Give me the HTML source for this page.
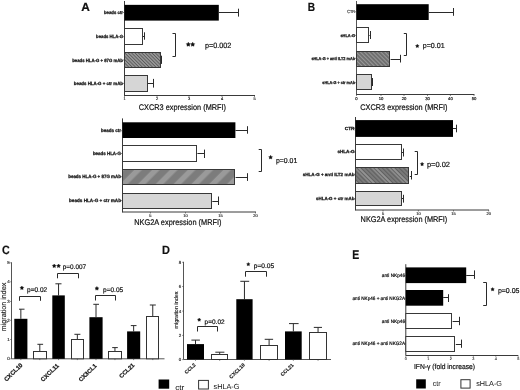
<!DOCTYPE html>
<html><head><meta charset="utf-8"><style>
html,body{margin:0;padding:0;background:#fff;width:520px;height:390px;overflow:hidden}
svg{display:block;filter:blur(0.3px);font-family:"Liberation Sans", sans-serif;text-rendering:geometricPrecision}
</style></head><body>
<svg width="520" height="390" viewBox="0 0 520 390" font-family='"Liberation Sans", sans-serif'>
<defs>
<pattern id="hd" patternUnits="userSpaceOnUse" width="2.4" height="2.4" patternTransform="rotate(-45)">
<rect width="2.4" height="2.4" fill="#959595"/><rect width="0.8" height="2.4" fill="#5a5a5a"/></pattern>
<pattern id="hd2" patternUnits="userSpaceOnUse" width="2.9" height="2.9" patternTransform="rotate(-45)">
<rect width="2.9" height="2.9" fill="#707070"/><rect width="0.9" height="2.9" fill="#9c9c9c"/></pattern>
<pattern id="hw" patternUnits="userSpaceOnUse" width="12.6" height="12.6" patternTransform="rotate(45)">
<rect width="12.6" height="12.6" fill="#7c7c7c"/><rect x="0.8" width="5.5" height="12.6" fill="#9a9a9a"/></pattern>
<pattern id="hw2" patternUnits="userSpaceOnUse" width="12" height="12" patternTransform="rotate(-45)">
<rect width="12" height="12" fill="#7a7a7a"/><rect width="5" height="12" fill="#939393"/>
<rect x="1" width="0.9" height="12" fill="#5c5c5c"/><rect x="4" width="0.9" height="12" fill="#5c5c5c"/><rect x="7" width="0.9" height="12" fill="#5c5c5c"/><rect x="10" width="0.9" height="12" fill="#5c5c5c"/></pattern>
</defs>
<rect width="520" height="390" fill="#fff"/>
<text x="81.2" y="11.0" font-size="12" text-anchor="start" font-weight="bold" fill="#111" textLength="8.6" lengthAdjust="spacingAndGlyphs" stroke="#111" stroke-width="0.2">A</text>
<text x="307.7" y="11.1" font-size="12" text-anchor="start" font-weight="bold" fill="#111" textLength="7.3" lengthAdjust="spacingAndGlyphs" stroke="#111" stroke-width="0.2">B</text>
<text x="2.1" y="253.55" font-size="12" text-anchor="start" font-weight="bold" fill="#111" textLength="7.7" lengthAdjust="spacingAndGlyphs" stroke="#111" stroke-width="0.2">C</text>
<text x="161.9" y="253.55" font-size="12" text-anchor="start" font-weight="bold" fill="#111" textLength="7.9" lengthAdjust="spacingAndGlyphs" stroke="#111" stroke-width="0.2">D</text>
<text x="352.2" y="259.08" font-size="12.8" text-anchor="start" font-weight="bold" fill="#111" textLength="7.0" lengthAdjust="spacingAndGlyphs" stroke="#111" stroke-width="0.2">E</text>
<line x1="124.5" y1="1" x2="124.5" y2="96" stroke="#3a3a3a" stroke-width="1"/>
<line x1="124.5" y1="95.5" x2="255" y2="95.5" stroke="#3a3a3a" stroke-width="1"/>
<rect x="124.5" y="4.85" width="94.30000000000001" height="15.750000000000002" fill="#000"/>
<line x1="218.8" y1="12.5" x2="238.8" y2="12.5" stroke="#2a2a2a" stroke-width="1"/>
<line x1="238.5" y1="8.7" x2="238.5" y2="16.6" stroke="#2a2a2a" stroke-width="1"/>
<rect x="124.5" y="28.5" width="18.0" height="16.0" fill="#fff" stroke="#383838" stroke-width="1"/>
<line x1="143" y1="36.5" x2="144.8" y2="36.5" stroke="#2a2a2a" stroke-width="1"/>
<line x1="144.5" y1="32.3" x2="144.5" y2="39.7" stroke="#2a2a2a" stroke-width="1"/>
<rect x="124.5" y="52.5" width="36.0" height="15.0" fill="url(#hd)" stroke="#383838" stroke-width="1"/>
<line x1="161" y1="60.5" x2="161.8" y2="60.5" stroke="#2a2a2a" stroke-width="1"/>
<line x1="161.5" y1="55.7" x2="161.5" y2="63.9" stroke="#2a2a2a" stroke-width="1"/>
<rect x="124.5" y="75.5" width="23.0" height="16.0" fill="#d6d6d6" stroke="#383838" stroke-width="1"/>
<line x1="148" y1="83.5" x2="153.3" y2="83.5" stroke="#2a2a2a" stroke-width="1"/>
<line x1="153.5" y1="78.9" x2="153.5" y2="87.6" stroke="#2a2a2a" stroke-width="1"/>
<line x1="124.5" y1="95.5" x2="124.5" y2="97" stroke="#3a3a3a" stroke-width="0.6"/>
<text x="124.5" y="100.0" font-size="4.0" text-anchor="middle" fill="#222" stroke="#222" stroke-width="0.15">1</text>
<line x1="157" y1="95.5" x2="157" y2="97" stroke="#3a3a3a" stroke-width="0.6"/>
<text x="157" y="100.0" font-size="4.0" text-anchor="middle" fill="#222" stroke="#222" stroke-width="0.15">2</text>
<line x1="189" y1="95.5" x2="189" y2="97" stroke="#3a3a3a" stroke-width="0.6"/>
<text x="189" y="100.0" font-size="4.0" text-anchor="middle" fill="#222" stroke="#222" stroke-width="0.15">3</text>
<line x1="222" y1="95.5" x2="222" y2="97" stroke="#3a3a3a" stroke-width="0.6"/>
<text x="222" y="100.0" font-size="4.0" text-anchor="middle" fill="#222" stroke="#222" stroke-width="0.15">4</text>
<line x1="254.5" y1="95.5" x2="254.5" y2="97" stroke="#3a3a3a" stroke-width="0.6"/>
<text x="254.5" y="100.0" font-size="4.0" text-anchor="middle" fill="#222" stroke="#222" stroke-width="0.15">5</text>
<text x="138.8" y="109.87" font-size="8.2" text-anchor="start" fill="#111" textLength="87.2" lengthAdjust="spacingAndGlyphs" stroke="#111" stroke-width="0.2">CXCR3 expression (MRFI)</text>
<polyline points="172.5,33.5 175.5,33.5 175.5,56.5 172.5,56.5" fill="none" stroke="#2a2a2a" stroke-width="1"/>
<polygon points="188.30,42.23 189.03,43.44 190.39,43.75 189.47,44.80 189.59,46.21 188.30,45.66 187.01,46.21 187.13,44.80 186.21,43.75 187.57,43.44" fill="#111" stroke="#111" stroke-width="0.4" stroke-linejoin="round"/>
<polygon points="192.70,42.23 193.43,43.44 194.79,43.75 193.87,44.80 193.99,46.21 192.70,45.66 191.41,46.21 191.53,44.80 190.61,43.75 191.97,43.44" fill="#111" stroke="#111" stroke-width="0.4" stroke-linejoin="round"/>
<text x="205" y="47.6" font-size="7.6" text-anchor="start" fill="#111" textLength="26.3" lengthAdjust="spacingAndGlyphs" stroke="#111" stroke-width="0.2">p=0.002</text>
<text x="104" y="14.11" font-size="4.6" text-anchor="start" font-weight="bold" fill="#111" textLength="19" lengthAdjust="spacingAndGlyphs" stroke="#111" stroke-width="0.25">beads ctr</text>
<line x1="123" y1="12.5" x2="124.5" y2="12.5" stroke="#3a3a3a" stroke-width="0.6"/>
<text x="96.1" y="38.31" font-size="4.6" text-anchor="start" font-weight="bold" fill="#111" textLength="26.9" lengthAdjust="spacingAndGlyphs" stroke="#111" stroke-width="0.25">beads HLA-G</text>
<line x1="123" y1="36.7" x2="124.5" y2="36.7" stroke="#3a3a3a" stroke-width="0.6"/>
<text x="72.2" y="61.61" font-size="4.6" text-anchor="start" font-weight="bold" fill="#111" textLength="50.8" lengthAdjust="spacingAndGlyphs" stroke="#111" stroke-width="0.25">beads HLA-G + 87G mAb</text>
<line x1="123" y1="60.0" x2="124.5" y2="60.0" stroke="#3a3a3a" stroke-width="0.6"/>
<text x="73.8" y="85.01" font-size="4.6" text-anchor="start" font-weight="bold" fill="#111" textLength="49.2" lengthAdjust="spacingAndGlyphs" stroke="#111" stroke-width="0.25">beads HLA-G + ctr mAb</text>
<line x1="123" y1="83.4" x2="124.5" y2="83.4" stroke="#3a3a3a" stroke-width="0.6"/>
<line x1="122.5" y1="118.4" x2="122.5" y2="212.5" stroke="#3a3a3a" stroke-width="1"/>
<line x1="122.5" y1="212" x2="256" y2="212" stroke="#3a3a3a" stroke-width="1"/>
<rect x="122.5" y="122.3" width="112.9" height="15.700000000000003" fill="#000"/>
<line x1="235.4" y1="130.5" x2="247" y2="130.5" stroke="#2a2a2a" stroke-width="1"/>
<line x1="247.5" y1="126.2" x2="247.5" y2="133.7" stroke="#2a2a2a" stroke-width="1"/>
<rect x="122.5" y="145.5" width="74.0" height="16.0" fill="#fff" stroke="#383838" stroke-width="1"/>
<line x1="197.4" y1="153.5" x2="204.7" y2="153.5" stroke="#2a2a2a" stroke-width="1"/>
<line x1="204.5" y1="149.6" x2="204.5" y2="158" stroke="#2a2a2a" stroke-width="1"/>
<rect x="122.5" y="169.5" width="112.0" height="15.0" fill="url(#hw)" stroke="#383838" stroke-width="1"/>
<line x1="235.6" y1="177.5" x2="247.7" y2="177.5" stroke="#2a2a2a" stroke-width="1"/>
<line x1="247.5" y1="173.2" x2="247.5" y2="180.9" stroke="#2a2a2a" stroke-width="1"/>
<rect x="122.5" y="193.5" width="89.0" height="15.0" fill="#d6d6d6" stroke="#383838" stroke-width="1"/>
<line x1="212.3" y1="201.5" x2="218.1" y2="201.5" stroke="#2a2a2a" stroke-width="1"/>
<line x1="218.5" y1="196.5" x2="218.5" y2="205" stroke="#2a2a2a" stroke-width="1"/>
<line x1="150.4" y1="212" x2="150.4" y2="213.5" stroke="#3a3a3a" stroke-width="0.6"/>
<text x="150.4" y="216.6" font-size="4.0" text-anchor="middle" fill="#222" stroke="#222" stroke-width="0.15">5</text>
<line x1="185.5" y1="212" x2="185.5" y2="213.5" stroke="#3a3a3a" stroke-width="0.6"/>
<text x="185.5" y="216.6" font-size="4.0" text-anchor="middle" fill="#222" stroke="#222" stroke-width="0.15">10</text>
<line x1="220.6" y1="212" x2="220.6" y2="213.5" stroke="#3a3a3a" stroke-width="0.6"/>
<text x="220.6" y="216.6" font-size="4.0" text-anchor="middle" fill="#222" stroke="#222" stroke-width="0.15">15</text>
<line x1="255.5" y1="212" x2="255.5" y2="213.5" stroke="#3a3a3a" stroke-width="0.6"/>
<text x="255.5" y="216.6" font-size="4.0" text-anchor="middle" fill="#222" stroke="#222" stroke-width="0.15">20</text>
<text x="134.2" y="225.07" font-size="8.2" text-anchor="start" fill="#111" textLength="87.4" lengthAdjust="spacingAndGlyphs" stroke="#111" stroke-width="0.2">NKG2A expression (MRFI)</text>
<polyline points="258.7,149.5 261.5,149.5 261.5,171.5 258.7,171.5" fill="none" stroke="#2a2a2a" stroke-width="1"/>
<polygon points="270.60,155.30 271.26,156.40 272.50,156.68 271.66,157.64 271.78,158.92 270.60,158.42 269.42,158.92 269.54,157.64 268.70,156.68 269.94,156.40" fill="#111" stroke="#111" stroke-width="0.4" stroke-linejoin="round"/>
<text x="276" y="163.32" font-size="7.2" text-anchor="start" fill="#111" textLength="21.3" lengthAdjust="spacingAndGlyphs" stroke="#111" stroke-width="0.2">p=0.01</text>
<text x="101" y="132.45" font-size="4.7" text-anchor="start" font-weight="bold" fill="#111" textLength="20" lengthAdjust="spacingAndGlyphs" stroke="#111" stroke-width="0.25">beads ctr</text>
<line x1="121" y1="130.8" x2="122.5" y2="130.8" stroke="#3a3a3a" stroke-width="0.6"/>
<text x="92.9" y="155.15" font-size="4.7" text-anchor="start" font-weight="bold" fill="#111" textLength="28.1" lengthAdjust="spacingAndGlyphs" stroke="#111" stroke-width="0.25">beads HLA-G</text>
<line x1="121" y1="153.5" x2="122.5" y2="153.5" stroke="#3a3a3a" stroke-width="0.6"/>
<text x="68.2" y="178.34" font-size="4.7" text-anchor="start" font-weight="bold" fill="#111" textLength="52.8" lengthAdjust="spacingAndGlyphs" stroke="#111" stroke-width="0.25">beads HLA-G + 87G mAb</text>
<line x1="121" y1="176.7" x2="122.5" y2="176.7" stroke="#3a3a3a" stroke-width="0.6"/>
<text x="69" y="202.25" font-size="4.7" text-anchor="start" font-weight="bold" fill="#111" textLength="52" lengthAdjust="spacingAndGlyphs" stroke="#111" stroke-width="0.25">beads HLA-G + ctr mAb</text>
<line x1="121" y1="200.6" x2="122.5" y2="200.6" stroke="#3a3a3a" stroke-width="0.6"/>
<line x1="356.5" y1="1" x2="356.5" y2="95" stroke="#555" stroke-width="1"/>
<line x1="356.5" y1="94.5" x2="474.4" y2="94.5" stroke="#3a3a3a" stroke-width="1"/>
<rect x="356.5" y="4.2" width="72.19999999999999" height="15.8" fill="#000"/>
<line x1="428.7" y1="12.5" x2="453.3" y2="12.5" stroke="#2a2a2a" stroke-width="1"/>
<line x1="453.5" y1="8" x2="453.5" y2="15.8" stroke="#2a2a2a" stroke-width="1"/>
<rect x="356.5" y="27.5" width="12.0" height="15.0" fill="#fff" stroke="#383838" stroke-width="1"/>
<line x1="369.4" y1="35.5" x2="370.6" y2="35.5" stroke="#2a2a2a" stroke-width="1"/>
<line x1="370.5" y1="31" x2="370.5" y2="39" stroke="#2a2a2a" stroke-width="1"/>
<rect x="356.5" y="51.5" width="33.0" height="15.0" fill="url(#hd2)" stroke="#383838" stroke-width="1"/>
<line x1="390.6" y1="59.5" x2="400.4" y2="59.5" stroke="#2a2a2a" stroke-width="1"/>
<line x1="400.5" y1="54.8" x2="400.5" y2="62.5" stroke="#2a2a2a" stroke-width="1"/>
<rect x="356.5" y="74.5" width="15.0" height="15.0" fill="#d6d6d6" stroke="#383838" stroke-width="1"/>
<line x1="372.3" y1="82.5" x2="372.6" y2="82.5" stroke="#2a2a2a" stroke-width="1"/>
<line x1="372.5" y1="78" x2="372.5" y2="86" stroke="#2a2a2a" stroke-width="1"/>
<line x1="356.5" y1="94.5" x2="356.5" y2="96" stroke="#3a3a3a" stroke-width="0.6"/>
<text x="356.5" y="99.77" font-size="4.2" text-anchor="middle" fill="#222" stroke="#222" stroke-width="0.2">0</text>
<line x1="381" y1="94.5" x2="381" y2="96" stroke="#3a3a3a" stroke-width="0.6"/>
<text x="381" y="99.77" font-size="4.2" text-anchor="middle" fill="#222" stroke="#222" stroke-width="0.2">10</text>
<line x1="404" y1="94.5" x2="404" y2="96" stroke="#3a3a3a" stroke-width="0.6"/>
<text x="404" y="99.77" font-size="4.2" text-anchor="middle" fill="#222" stroke="#222" stroke-width="0.2">20</text>
<line x1="427.5" y1="94.5" x2="427.5" y2="96" stroke="#3a3a3a" stroke-width="0.6"/>
<text x="427.5" y="99.77" font-size="4.2" text-anchor="middle" fill="#222" stroke="#222" stroke-width="0.2">30</text>
<line x1="450.4" y1="94.5" x2="450.4" y2="96" stroke="#3a3a3a" stroke-width="0.6"/>
<text x="450.4" y="99.77" font-size="4.2" text-anchor="middle" fill="#222" stroke="#222" stroke-width="0.2">40</text>
<line x1="474" y1="94.5" x2="474" y2="96" stroke="#3a3a3a" stroke-width="0.6"/>
<text x="474" y="99.77" font-size="4.2" text-anchor="middle" fill="#222" stroke="#222" stroke-width="0.2">50</text>
<text x="360.3" y="109.97" font-size="8.2" text-anchor="start" fill="#111" textLength="87.2" lengthAdjust="spacingAndGlyphs" stroke="#111" stroke-width="0.2">CXCR3 expression (MRFI)</text>
<polyline points="403.8,33.5 406.5,33.5 406.5,55.5 403.8,55.5" fill="none" stroke="#2a2a2a" stroke-width="1"/>
<polygon points="417.30,44.27 417.89,45.26 419.01,45.51 418.25,46.38 418.36,47.53 417.30,47.08 416.24,47.53 416.35,46.38 415.59,45.51 416.71,45.26" fill="#111" stroke="#111" stroke-width="0.4" stroke-linejoin="round"/>
<text x="422.7" y="48.35" font-size="7.3" text-anchor="start" fill="#111" textLength="21.9" lengthAdjust="spacingAndGlyphs" stroke="#111" stroke-width="0.2">p=0.01</text>
<text x="347.3" y="13.34" font-size="4.4" text-anchor="start" fill="#333" textLength="7.7" lengthAdjust="spacingAndGlyphs" stroke="#333" stroke-width="0.2">CTR</text>
<line x1="355" y1="11.8" x2="356.5" y2="11.8" stroke="#3a3a3a" stroke-width="0.6"/>
<text x="340.4" y="36.87" font-size="4.2" text-anchor="start" font-weight="bold" fill="#111" textLength="14.6" lengthAdjust="spacingAndGlyphs" stroke="#111" stroke-width="0.25">sHLA-G</text>
<line x1="355" y1="35.4" x2="356.5" y2="35.4" stroke="#3a3a3a" stroke-width="0.6"/>
<text x="311.4" y="59.77" font-size="4.2" text-anchor="start" font-weight="bold" fill="#111" textLength="43.6" lengthAdjust="spacingAndGlyphs" stroke="#111" stroke-width="0.25">sHLA-G + anti ILT2 mAb</text>
<line x1="355" y1="58.3" x2="356.5" y2="58.3" stroke="#3a3a3a" stroke-width="0.6"/>
<text x="322.3" y="84.17" font-size="4.2" text-anchor="start" font-weight="bold" fill="#111" textLength="32.7" lengthAdjust="spacingAndGlyphs" stroke="#111" stroke-width="0.25">sHLA-G + ctr mAb</text>
<line x1="355" y1="82.7" x2="356.5" y2="82.7" stroke="#3a3a3a" stroke-width="0.6"/>
<line x1="355.5" y1="117" x2="355.5" y2="210.5" stroke="#3a3a3a" stroke-width="1"/>
<line x1="355.5" y1="210" x2="489" y2="210" stroke="#3a3a3a" stroke-width="1"/>
<rect x="355.5" y="120.1" width="97.5" height="16.80000000000001" fill="#000"/>
<line x1="453" y1="128.5" x2="456.2" y2="128.5" stroke="#2a2a2a" stroke-width="1"/>
<line x1="456.5" y1="124.7" x2="456.5" y2="132.3" stroke="#2a2a2a" stroke-width="1"/>
<rect x="355.5" y="144.5" width="46.0" height="15.0" fill="#fff" stroke="#383838" stroke-width="1"/>
<line x1="402" y1="152.5" x2="403" y2="152.5" stroke="#2a2a2a" stroke-width="1"/>
<line x1="403.5" y1="148.5" x2="403.5" y2="156.5" stroke="#2a2a2a" stroke-width="1"/>
<rect x="355.5" y="167.5" width="53.0" height="16.0" fill="url(#hw2)" stroke="#383838" stroke-width="1"/>
<line x1="409.8" y1="176.5" x2="411.6" y2="176.5" stroke="#2a2a2a" stroke-width="1"/>
<line x1="411.5" y1="171" x2="411.5" y2="179.5" stroke="#2a2a2a" stroke-width="1"/>
<rect x="355.5" y="191.5" width="46.0" height="14.0" fill="#d6d6d6" stroke="#383838" stroke-width="1"/>
<line x1="402" y1="198.5" x2="403" y2="198.5" stroke="#2a2a2a" stroke-width="1"/>
<line x1="403.5" y1="194.8" x2="403.5" y2="202.6" stroke="#2a2a2a" stroke-width="1"/>
<line x1="383" y1="210" x2="383" y2="211.5" stroke="#3a3a3a" stroke-width="0.6"/>
<text x="383" y="215.0" font-size="4.0" text-anchor="middle" fill="#222" stroke="#222" stroke-width="0.15">5</text>
<line x1="418.4" y1="210" x2="418.4" y2="211.5" stroke="#3a3a3a" stroke-width="0.6"/>
<text x="418.4" y="215.0" font-size="4.0" text-anchor="middle" fill="#222" stroke="#222" stroke-width="0.15">10</text>
<line x1="453.5" y1="210" x2="453.5" y2="211.5" stroke="#3a3a3a" stroke-width="0.6"/>
<text x="453.5" y="215.0" font-size="4.0" text-anchor="middle" fill="#222" stroke="#222" stroke-width="0.15">15</text>
<line x1="488.7" y1="210" x2="488.7" y2="211.5" stroke="#3a3a3a" stroke-width="0.6"/>
<text x="488.7" y="215.0" font-size="4.0" text-anchor="middle" fill="#222" stroke="#222" stroke-width="0.15">20</text>
<text x="360.6" y="222.27" font-size="8.2" text-anchor="start" fill="#111" textLength="86.7" lengthAdjust="spacingAndGlyphs" stroke="#111" stroke-width="0.2">NKG2A expression (MRFI)</text>
<polyline points="414.7,151.5 417.5,151.5 417.5,174.5 414.7,174.5" fill="none" stroke="#2a2a2a" stroke-width="1"/>
<polygon points="422.10,162.37 422.69,163.36 423.81,163.61 423.05,164.48 423.16,165.63 422.10,165.18 421.04,165.63 421.15,164.48 420.39,163.61 421.51,163.36" fill="#111" stroke="#111" stroke-width="0.4" stroke-linejoin="round"/>
<text x="426.9" y="166.53" font-size="7.5" text-anchor="start" fill="#111" textLength="23.1" lengthAdjust="spacingAndGlyphs" stroke="#111" stroke-width="0.2">p=0.02</text>
<text x="344.7" y="130.14" font-size="4.4" text-anchor="start" font-weight="bold" fill="#111" textLength="9.8" lengthAdjust="spacingAndGlyphs" stroke="#111" stroke-width="0.25">CTR</text>
<line x1="354" y1="128.6" x2="355.5" y2="128.6" stroke="#3a3a3a" stroke-width="0.6"/>
<text x="337.4" y="153.44" font-size="4.4" text-anchor="start" font-weight="bold" fill="#111" textLength="17.1" lengthAdjust="spacingAndGlyphs" stroke="#111" stroke-width="0.25">sHLA-G</text>
<line x1="354" y1="151.9" x2="355.5" y2="151.9" stroke="#3a3a3a" stroke-width="0.6"/>
<text x="302.8" y="175.74" font-size="4.4" text-anchor="start" font-weight="bold" fill="#111" textLength="51.7" lengthAdjust="spacingAndGlyphs" stroke="#111" stroke-width="0.25">sHLA-G + anti ILT2 mAb</text>
<line x1="354" y1="174.2" x2="355.5" y2="174.2" stroke="#3a3a3a" stroke-width="0.6"/>
<text x="316" y="200.44" font-size="4.4" text-anchor="start" font-weight="bold" fill="#111" textLength="38.5" lengthAdjust="spacingAndGlyphs" stroke="#111" stroke-width="0.25">sHLA-G + ctr mAb</text>
<line x1="354" y1="198.9" x2="355.5" y2="198.9" stroke="#3a3a3a" stroke-width="0.6"/>
<line x1="11.5" y1="262.3" x2="11.5" y2="358.8" stroke="#555" stroke-width="1"/>
<line x1="11.5" y1="358.8" x2="164.5" y2="358.8" stroke="#555" stroke-width="1"/>
<line x1="10.2" y1="358.8" x2="11.5" y2="358.8" stroke="#3a3a3a" stroke-width="0.6"/>
<text x="8.4" y="360.34" font-size="4.4" text-anchor="middle" fill="#222" stroke="#222" stroke-width="0.15">0</text>
<line x1="10.2" y1="339.5" x2="11.5" y2="339.5" stroke="#3a3a3a" stroke-width="0.6"/>
<text x="8.4" y="341.04" font-size="4.4" text-anchor="middle" fill="#222" stroke="#222" stroke-width="0.15">1</text>
<line x1="10.2" y1="320.3" x2="11.5" y2="320.3" stroke="#3a3a3a" stroke-width="0.6"/>
<text x="8.4" y="321.84" font-size="4.4" text-anchor="middle" fill="#222" stroke="#222" stroke-width="0.15">2</text>
<line x1="10.2" y1="301.5" x2="11.5" y2="301.5" stroke="#3a3a3a" stroke-width="0.6"/>
<text x="8.4" y="303.04" font-size="4.4" text-anchor="middle" fill="#222" stroke="#222" stroke-width="0.15">3</text>
<line x1="10.2" y1="281.8" x2="11.5" y2="281.8" stroke="#3a3a3a" stroke-width="0.6"/>
<text x="8.4" y="283.34" font-size="4.4" text-anchor="middle" fill="#222" stroke="#222" stroke-width="0.15">4</text>
<line x1="10.2" y1="262.8" x2="11.5" y2="262.8" stroke="#3a3a3a" stroke-width="0.6"/>
<text x="8.4" y="264.34" font-size="4.4" text-anchor="middle" fill="#222" stroke="#222" stroke-width="0.15">5</text>
<text transform="translate(6.1,307) rotate(-90)" font-size="7.2" text-anchor="middle" fill="#222" stroke="#222" stroke-width="0.15" textLength="48.5" lengthAdjust="spacingAndGlyphs">migration index</text>
<line x1="20.85" y1="318.8" x2="20.85" y2="309.2" stroke="#2a2a2a" stroke-width="1"/>
<line x1="19.0" y1="309.2" x2="24.5" y2="309.2" stroke="#2a2a2a" stroke-width="1"/>
<rect x="14.3" y="318.8" width="13.099999999999998" height="40.0" fill="#000"/>
<line x1="20.85" y1="358.8" x2="20.85" y2="360.1" stroke="#3a3a3a" stroke-width="0.6"/>
<line x1="39.8" y1="351.5" x2="39.8" y2="344.3" stroke="#2a2a2a" stroke-width="1"/>
<line x1="37.4" y1="344.3" x2="43.1" y2="344.3" stroke="#2a2a2a" stroke-width="1"/>
<rect x="33.5" y="351.5" width="13.0" height="7.300000000000011" fill="#fff" stroke="#333" stroke-width="1"/>
<line x1="39.8" y1="358.8" x2="39.8" y2="360.1" stroke="#3a3a3a" stroke-width="0.6"/>
<line x1="58.55" y1="295.4" x2="58.55" y2="283.8" stroke="#2a2a2a" stroke-width="1"/>
<line x1="55.4" y1="283.8" x2="61.5" y2="283.8" stroke="#2a2a2a" stroke-width="1"/>
<rect x="52.3" y="295.4" width="12.5" height="63.400000000000034" fill="#000"/>
<line x1="58.55" y1="358.8" x2="58.55" y2="360.1" stroke="#3a3a3a" stroke-width="0.6"/>
<line x1="77.35" y1="339.7" x2="77.35" y2="334.3" stroke="#2a2a2a" stroke-width="1"/>
<line x1="74.4" y1="334.3" x2="80.4" y2="334.3" stroke="#2a2a2a" stroke-width="1"/>
<rect x="71.5" y="339.5" width="12.0" height="19.30000000000001" fill="#fff" stroke="#333" stroke-width="1"/>
<line x1="77.35" y1="358.8" x2="77.35" y2="360.1" stroke="#3a3a3a" stroke-width="0.6"/>
<line x1="96.0" y1="317.2" x2="96.0" y2="304.3" stroke="#2a2a2a" stroke-width="1"/>
<line x1="93.3" y1="304.3" x2="99.0" y2="304.3" stroke="#2a2a2a" stroke-width="1"/>
<rect x="89.4" y="317.2" width="13.199999999999989" height="41.60000000000002" fill="#000"/>
<line x1="96.0" y1="358.8" x2="96.0" y2="360.1" stroke="#3a3a3a" stroke-width="0.6"/>
<line x1="114.95" y1="351.6" x2="114.95" y2="347.6" stroke="#2a2a2a" stroke-width="1"/>
<line x1="112.2" y1="347.6" x2="117.8" y2="347.6" stroke="#2a2a2a" stroke-width="1"/>
<rect x="108.5" y="351.5" width="13.0" height="7.300000000000011" fill="#fff" stroke="#333" stroke-width="1"/>
<line x1="114.95" y1="358.8" x2="114.95" y2="360.1" stroke="#3a3a3a" stroke-width="0.6"/>
<line x1="133.64999999999998" y1="331.4" x2="133.64999999999998" y2="325.6" stroke="#2a2a2a" stroke-width="1"/>
<line x1="130.8" y1="325.6" x2="136.5" y2="325.6" stroke="#2a2a2a" stroke-width="1"/>
<rect x="127.1" y="331.4" width="13.099999999999994" height="27.400000000000034" fill="#000"/>
<line x1="133.64999999999998" y1="358.8" x2="133.64999999999998" y2="360.1" stroke="#3a3a3a" stroke-width="0.6"/>
<line x1="152.75" y1="316.5" x2="152.75" y2="305" stroke="#2a2a2a" stroke-width="1"/>
<line x1="149.8" y1="305" x2="155.8" y2="305" stroke="#2a2a2a" stroke-width="1"/>
<rect x="146.5" y="316.5" width="12.0" height="42.30000000000001" fill="#fff" stroke="#333" stroke-width="1"/>
<line x1="152.75" y1="358.8" x2="152.75" y2="360.1" stroke="#3a3a3a" stroke-width="0.6"/>
<polyline points="19.5,300.8 19.5,296.5 40.5,296.5 40.5,300.8" fill="none" stroke="#2a2a2a" stroke-width="1"/>
<polyline points="57.5,278.3 57.5,273.5 78.5,273.5 78.5,278.3" fill="none" stroke="#2a2a2a" stroke-width="1"/>
<polyline points="95.5,300.5 95.5,295.5 115.5,295.5 115.5,300.5" fill="none" stroke="#2a2a2a" stroke-width="1"/>
<polygon points="21.90,286.00 22.56,287.10 23.80,287.38 22.96,288.34 23.08,289.62 21.90,289.12 20.72,289.62 20.84,288.34 20.00,287.38 21.24,287.10" fill="#111" stroke="#111" stroke-width="0.4" stroke-linejoin="round"/>
<text x="27.1" y="291.98" font-size="6.8" text-anchor="start" fill="#111" textLength="20.0" lengthAdjust="spacingAndGlyphs" stroke="#111" stroke-width="0.2">p=0.02</text>
<polygon points="54.20,264.00 54.86,265.10 56.10,265.38 55.26,266.34 55.38,267.62 54.20,267.12 53.02,267.62 53.14,266.34 52.30,265.38 53.54,265.10" fill="#111" stroke="#111" stroke-width="0.4" stroke-linejoin="round"/>
<polygon points="58.60,264.00 59.26,265.10 60.50,265.38 59.66,266.34 59.78,267.62 58.60,267.12 57.42,267.62 57.54,266.34 56.70,265.38 57.94,265.10" fill="#111" stroke="#111" stroke-width="0.4" stroke-linejoin="round"/>
<text x="62.8" y="268.91" font-size="6.6" text-anchor="start" fill="#111" textLength="23.4" lengthAdjust="spacingAndGlyphs" stroke="#111" stroke-width="0.2">p=0.007</text>
<polygon points="96.90,286.50 97.56,287.60 98.80,287.88 97.96,288.84 98.08,290.12 96.90,289.62 95.72,290.12 95.84,288.84 95.00,287.88 96.24,287.60" fill="#111" stroke="#111" stroke-width="0.4" stroke-linejoin="round"/>
<text x="103" y="292.21" font-size="6.6" text-anchor="start" fill="#111" textLength="20.2" lengthAdjust="spacingAndGlyphs" stroke="#111" stroke-width="0.2">p=0.05</text>
<text transform="translate(23.0,365.65) rotate(-44)" font-size="6.0" font-weight="bold" text-anchor="end" fill="#111" stroke="#111" stroke-width="0.2">CXCL10</text>
<text transform="translate(59.4,366.15) rotate(-44)" font-size="6.0" font-weight="bold" text-anchor="end" fill="#111" stroke="#111" stroke-width="0.2">CXCL11</text>
<text transform="translate(97.2,366.25) rotate(-44)" font-size="5.9" font-weight="bold" text-anchor="end" fill="#111" stroke="#111" stroke-width="0.2">CX3CL1</text>
<text transform="translate(134.9,365.6) rotate(-44)" font-size="5.9" font-weight="bold" text-anchor="end" fill="#111" stroke="#111" stroke-width="0.2">CCL21</text>
<line x1="183.5" y1="261.8" x2="183.5" y2="359.5" stroke="#555" stroke-width="1"/>
<line x1="183.5" y1="359.5" x2="331" y2="359.5" stroke="#555" stroke-width="1"/>
<line x1="182.2" y1="359.6" x2="183.5" y2="359.6" stroke="#3a3a3a" stroke-width="0.6"/>
<text x="180" y="361.14" font-size="4.4" text-anchor="middle" fill="#222" stroke="#222" stroke-width="0.15">0</text>
<line x1="182.2" y1="335.4" x2="183.5" y2="335.4" stroke="#3a3a3a" stroke-width="0.6"/>
<text x="180" y="336.94" font-size="4.4" text-anchor="middle" fill="#222" stroke="#222" stroke-width="0.15">2</text>
<line x1="182.2" y1="311.1" x2="183.5" y2="311.1" stroke="#3a3a3a" stroke-width="0.6"/>
<text x="180" y="312.64" font-size="4.4" text-anchor="middle" fill="#222" stroke="#222" stroke-width="0.15">4</text>
<line x1="182.2" y1="286.5" x2="183.5" y2="286.5" stroke="#3a3a3a" stroke-width="0.6"/>
<text x="180" y="288.04" font-size="4.4" text-anchor="middle" fill="#222" stroke="#222" stroke-width="0.15">6</text>
<line x1="182.2" y1="262.3" x2="183.5" y2="262.3" stroke="#3a3a3a" stroke-width="0.6"/>
<text x="180" y="263.84" font-size="4.4" text-anchor="middle" fill="#222" stroke="#222" stroke-width="0.15">8</text>
<text transform="translate(177.7,310) rotate(-90)" font-size="5.5" text-anchor="middle" fill="#222" stroke="#222" stroke-width="0.12" textLength="37" lengthAdjust="spacingAndGlyphs">migration index</text>
<line x1="195.5" y1="344.1" x2="195.5" y2="340.1" stroke="#2a2a2a" stroke-width="1"/>
<line x1="191.4" y1="340.1" x2="199.9" y2="340.1" stroke="#2a2a2a" stroke-width="1"/>
<rect x="187" y="344.1" width="17" height="15.399999999999977" fill="#000"/>
<line x1="195.5" y1="359.5" x2="195.5" y2="360.8" stroke="#3a3a3a" stroke-width="0.6"/>
<line x1="219.7" y1="354.2" x2="219.7" y2="352.2" stroke="#2a2a2a" stroke-width="1"/>
<line x1="215.3" y1="352.2" x2="224.4" y2="352.2" stroke="#2a2a2a" stroke-width="1"/>
<rect x="211.5" y="354.5" width="16.0" height="5.0" fill="#fff" stroke="#333" stroke-width="1"/>
<line x1="219.7" y1="359.5" x2="219.7" y2="360.8" stroke="#3a3a3a" stroke-width="0.6"/>
<line x1="244.45" y1="299.2" x2="244.45" y2="281.3" stroke="#2a2a2a" stroke-width="1"/>
<line x1="240.3" y1="281.3" x2="249.2" y2="281.3" stroke="#2a2a2a" stroke-width="1"/>
<rect x="236.3" y="299.2" width="16.299999999999983" height="60.30000000000001" fill="#000"/>
<line x1="244.45" y1="359.5" x2="244.45" y2="360.8" stroke="#3a3a3a" stroke-width="0.6"/>
<line x1="269.1" y1="345.4" x2="269.1" y2="339.3" stroke="#2a2a2a" stroke-width="1"/>
<line x1="264.7" y1="339.3" x2="273.1" y2="339.3" stroke="#2a2a2a" stroke-width="1"/>
<rect x="260.5" y="345.5" width="17.0" height="14.0" fill="#fff" stroke="#333" stroke-width="1"/>
<line x1="269.1" y1="359.5" x2="269.1" y2="360.8" stroke="#3a3a3a" stroke-width="0.6"/>
<line x1="293.35" y1="331.4" x2="293.35" y2="323.6" stroke="#2a2a2a" stroke-width="1"/>
<line x1="289" y1="323.6" x2="298.6" y2="323.6" stroke="#2a2a2a" stroke-width="1"/>
<rect x="285" y="331.4" width="16.69999999999999" height="28.100000000000023" fill="#000"/>
<line x1="293.35" y1="359.5" x2="293.35" y2="360.8" stroke="#3a3a3a" stroke-width="0.6"/>
<line x1="318.05" y1="332.1" x2="318.05" y2="327.4" stroke="#2a2a2a" stroke-width="1"/>
<line x1="313.8" y1="327.4" x2="322" y2="327.4" stroke="#2a2a2a" stroke-width="1"/>
<rect x="309.5" y="332.5" width="17.0" height="27.0" fill="#fff" stroke="#333" stroke-width="1"/>
<line x1="318.05" y1="359.5" x2="318.05" y2="360.8" stroke="#3a3a3a" stroke-width="0.6"/>
<polyline points="197.5,331.5 197.5,326.5 217.5,326.5 217.5,331.5" fill="none" stroke="#2a2a2a" stroke-width="1"/>
<polyline points="245.5,276.7 245.5,271.5 266.5,271.5 266.5,276.7" fill="none" stroke="#2a2a2a" stroke-width="1"/>
<polygon points="199.20,318.01 199.78,318.97 200.86,319.22 200.13,320.06 200.23,321.18 199.20,320.74 198.17,321.18 198.27,320.06 197.54,319.22 198.62,318.97" fill="#111" stroke="#111" stroke-width="0.4" stroke-linejoin="round"/>
<text x="204.6" y="323.88" font-size="6.5" text-anchor="start" fill="#111" textLength="20.0" lengthAdjust="spacingAndGlyphs" stroke="#111" stroke-width="0.2">p=0.02</text>
<polygon points="248.30,262.51 248.88,263.47 249.96,263.72 249.23,264.56 249.33,265.68 248.30,265.24 247.27,265.68 247.37,264.56 246.64,263.72 247.72,263.47" fill="#111" stroke="#111" stroke-width="0.4" stroke-linejoin="round"/>
<text x="253.7" y="267.71" font-size="6.6" text-anchor="start" fill="#111" textLength="20.5" lengthAdjust="spacingAndGlyphs" stroke="#111" stroke-width="0.2">p=0.05</text>
<text transform="translate(196.0,365.3) rotate(-44)" font-size="5.0" font-weight="bold" text-anchor="end" fill="#111" stroke="#111" stroke-width="0.12">CCL2</text>
<text transform="translate(245.4,365.3) rotate(-44)" font-size="5.1" font-weight="bold" text-anchor="end" fill="#111" stroke="#111" stroke-width="0.12">CXCL10</text>
<text transform="translate(293.9,365.6) rotate(-44)" font-size="5.0" font-weight="bold" text-anchor="end" fill="#111" stroke="#111" stroke-width="0.12">CCL21</text>
<rect x="158.6" y="379.5" width="10.6" height="9.2" fill="#000"/>
<text x="175.2" y="389.79" font-size="7.4" text-anchor="start" fill="#111" textLength="9.2" lengthAdjust="spacingAndGlyphs">ctr</text>
<rect x="198.6" y="380.4" width="9.8" height="8.6" fill="#fff" stroke="#333" stroke-width="1"/>
<text x="213.5" y="389.49" font-size="7.4" text-anchor="start" fill="#111" textLength="25.9" lengthAdjust="spacingAndGlyphs">sHLA-G</text>
<line x1="405.8" y1="264.2" x2="405.8" y2="355.5" stroke="#3a3a3a" stroke-width="1"/>
<line x1="405.8" y1="355.5" x2="518.2" y2="355.5" stroke="#3a3a3a" stroke-width="1"/>
<rect x="405.8" y="267.4" width="60.39999999999998" height="15.700000000000045" fill="#000"/>
<line x1="466.2" y1="275.5" x2="474.5" y2="275.5" stroke="#2a2a2a" stroke-width="1"/>
<line x1="474.5" y1="270.4" x2="474.5" y2="278.9" stroke="#2a2a2a" stroke-width="1"/>
<rect x="405.8" y="290" width="37.39999999999998" height="15.699999999999989" fill="#000"/>
<line x1="443.2" y1="297.5" x2="448.5" y2="297.5" stroke="#2a2a2a" stroke-width="1"/>
<line x1="448.5" y1="294.2" x2="448.5" y2="302" stroke="#2a2a2a" stroke-width="1"/>
<rect x="405.8" y="313.5" width="45.69999999999999" height="15.0" fill="#fff" stroke="#383838" stroke-width="1"/>
<line x1="452.6" y1="321.5" x2="459" y2="321.5" stroke="#2a2a2a" stroke-width="1"/>
<line x1="459.5" y1="316.8" x2="459.5" y2="325.2" stroke="#2a2a2a" stroke-width="1"/>
<rect x="405.8" y="336.5" width="48.69999999999999" height="15.0" fill="#fff" stroke="#383838" stroke-width="1"/>
<line x1="455.8" y1="344.5" x2="461.9" y2="344.5" stroke="#2a2a2a" stroke-width="1"/>
<line x1="461.5" y1="339.6" x2="461.5" y2="347.8" stroke="#2a2a2a" stroke-width="1"/>
<line x1="405.8" y1="355.5" x2="405.8" y2="356.8" stroke="#3a3a3a" stroke-width="0.6"/>
<text x="405.8" y="360.13" font-size="3.8" text-anchor="middle" fill="#333" stroke="#333" stroke-width="0.1">0</text>
<line x1="428.2" y1="355.5" x2="428.2" y2="356.8" stroke="#3a3a3a" stroke-width="0.6"/>
<text x="428.2" y="360.13" font-size="3.8" text-anchor="middle" fill="#333" stroke="#333" stroke-width="0.1">1</text>
<line x1="450.8" y1="355.5" x2="450.8" y2="356.8" stroke="#3a3a3a" stroke-width="0.6"/>
<text x="450.8" y="360.13" font-size="3.8" text-anchor="middle" fill="#333" stroke="#333" stroke-width="0.1">2</text>
<line x1="473.4" y1="355.5" x2="473.4" y2="356.8" stroke="#3a3a3a" stroke-width="0.6"/>
<text x="473.4" y="360.13" font-size="3.8" text-anchor="middle" fill="#333" stroke="#333" stroke-width="0.1">3</text>
<line x1="495.8" y1="355.5" x2="495.8" y2="356.8" stroke="#3a3a3a" stroke-width="0.6"/>
<text x="495.8" y="360.13" font-size="3.8" text-anchor="middle" fill="#333" stroke="#333" stroke-width="0.1">4</text>
<line x1="518.2" y1="355.5" x2="518.2" y2="356.8" stroke="#3a3a3a" stroke-width="0.6"/>
<text x="518.2" y="360.13" font-size="3.8" text-anchor="middle" fill="#333" stroke="#333" stroke-width="0.1">5</text>
<text x="414" y="368.86" font-size="7.3" text-anchor="start" fill="#111" textLength="61" lengthAdjust="spacingAndGlyphs" stroke="#111" stroke-width="0.2">IFN-γ (fold increase)</text>
<polyline points="483.2,282.5 486.5,282.5 486.5,305.5 483.2,305.5" fill="none" stroke="#2a2a2a" stroke-width="1"/>
<polygon points="492.60,287.57 493.19,288.56 494.31,288.81 493.55,289.68 493.66,290.83 492.60,290.38 491.54,290.83 491.65,289.68 490.89,288.81 492.01,288.56" fill="#111" stroke="#111" stroke-width="0.4" stroke-linejoin="round"/>
<text x="497.9" y="293.19" font-size="7.1" text-anchor="start" fill="#111" textLength="21.6" lengthAdjust="spacingAndGlyphs" stroke="#111" stroke-width="0.2">p=0.05</text>
<text x="381.8" y="277.11" font-size="4.9" text-anchor="start" fill="#111" textLength="23.2" lengthAdjust="spacingAndGlyphs" stroke="#111" stroke-width="0.2">anti NKp46</text>
<line x1="404.6" y1="275.4" x2="405.8" y2="275.4" stroke="#3a3a3a" stroke-width="0.6"/>
<text x="352.5" y="299.91" font-size="4.9" text-anchor="start" fill="#111" textLength="52.5" lengthAdjust="spacingAndGlyphs" stroke="#111" stroke-width="0.2">anti NKp46 + anti NKG2A</text>
<line x1="404.6" y1="298.2" x2="405.8" y2="298.2" stroke="#3a3a3a" stroke-width="0.6"/>
<text x="381.8" y="322.61" font-size="4.9" text-anchor="start" fill="#111" textLength="23.2" lengthAdjust="spacingAndGlyphs" stroke="#111" stroke-width="0.2">anti NKp46</text>
<line x1="404.6" y1="320.9" x2="405.8" y2="320.9" stroke="#3a3a3a" stroke-width="0.6"/>
<text x="352.5" y="345.31" font-size="4.9" text-anchor="start" fill="#111" textLength="52.5" lengthAdjust="spacingAndGlyphs" stroke="#111" stroke-width="0.2">anti NKp46 + anti NKG2A</text>
<line x1="404.6" y1="343.6" x2="405.8" y2="343.6" stroke="#3a3a3a" stroke-width="0.6"/>
<rect x="416.2" y="379.3" width="9.6" height="9.2" fill="#000"/>
<text x="432.8" y="386.06" font-size="7.3" text-anchor="start" fill="#111" textLength="7.8" lengthAdjust="spacingAndGlyphs">ctr</text>
<rect x="460.9" y="379.7" width="9.2" height="8.4" fill="#fff" stroke="#333" stroke-width="1"/>
<text x="476.2" y="386.06" font-size="7.3" text-anchor="start" fill="#111" textLength="25.8" lengthAdjust="spacingAndGlyphs">sHLA-G</text>
</svg>
</body></html>
